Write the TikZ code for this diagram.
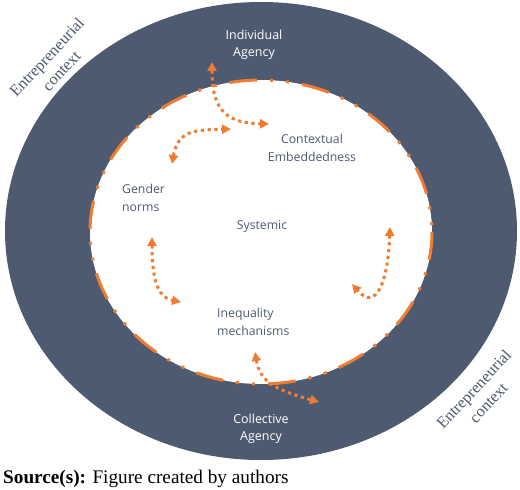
\documentclass[tikz,border=0pt]{standalone}
\usepackage{fontspec}
\setmainfont{Liberation Serif}
\newfontfamily\labelfont{Open Sans}
\usetikzlibrary{arrows.meta}
\definecolor{ringdark}{HTML}{4D5A70}
\definecolor{ringorange}{HTML}{EE7D33}
\tikzset{
  ringlabel/.style={font=\labelfont\fontsize{12.5}{17.5}\selectfont, text=white, align=center, inner sep=0pt},
  innerlabel/.style={font=\labelfont\fontsize{12.3}{17.5}\selectfont, text=ringdark, inner sep=0pt},
  ctxlabel/.style={font=\fontsize{16.3}{20}\selectfont, text=ringdark, align=center, inner sep=0pt, rotate=47},
  looparrow/.style={draw=ringorange, line width=3bp, dash pattern=on 3.2bp off 3.6bp,
    {Triangle[length=9bp,width=9bp]}-{Triangle[length=9bp,width=9bp]}},
  dashring/.style={draw=ringorange, line width=3bp,
    dash pattern=on 28bp off 13bp on 3bp off 13bp on 3bp off 13bp}
}
\begin{document}
\begin{tikzpicture}[x=1bp,y=-1bp]
\useasboundingbox (0,0) rectangle (520,490);
\fill[white] (0,0) rectangle (520,490);
% rings
\fill[ringdark] (261,231) ellipse [x radius=256, y radius=229];
\fill[white] (261,232) ellipse [x radius=171, y radius=152];
\draw[dashring] (261,232) ellipse [x radius=171, y radius=152];
% labels
\node[ringlabel] (indiv) at (254,45) {Individual\\Agency};
\node[ringlabel] (coll) at (261,429) {Collective\\Agency};
\node[innerlabel, align=center] (ctx) at (312,148) {Contextual\\Embeddedness};
\node[innerlabel, align=left, anchor=west] (gender) at (122,198) {Gender\\norms};
\node[innerlabel] (sys) at (262,226) {Systemic};
\node[innerlabel, align=left, anchor=west] (ineq) at (217,322) {Inequality\\mechanisms};
\node[ctxlabel] (ctxtl) at (54,64) {Entrepreneurial\\context};
\node[ctxlabel] (ctxbr) at (481,396) {Entrepreneurial\\context};
\node[anchor=base west, inner sep=0pt, font=\fontsize{19.3}{23}\selectfont] (src) at (3,483) {\textbf{Source(s):} Figure created by authors};
% arrow end points
\coordinate (a1) at (212,62);
\coordinate (a2) at (269,124);
\coordinate (b1) at (172,164);
\coordinate (b2) at (231,129);
\coordinate (c1) at (152,237);
\coordinate (c2) at (181,302);
\coordinate (d1) at (390,227);
\coordinate (d2) at (352,284);
\coordinate (e1) at (255,352);
\coordinate (e2) at (319,402);
\draw[looparrow] (a1) .. controls (212,112) and (228,123) .. (a2);
\draw[looparrow] (b1) .. controls (178,130) and (195,130) .. (b2);
\draw[looparrow] (c1) .. controls (152,285) and (160,298) .. (c2);
\draw[looparrow] (d1) .. controls (388,282) and (376,312) .. (d2);
\draw[looparrow] (e1) .. controls (260,382) and (276,390) .. (e2);
\end{tikzpicture}
\end{document}
